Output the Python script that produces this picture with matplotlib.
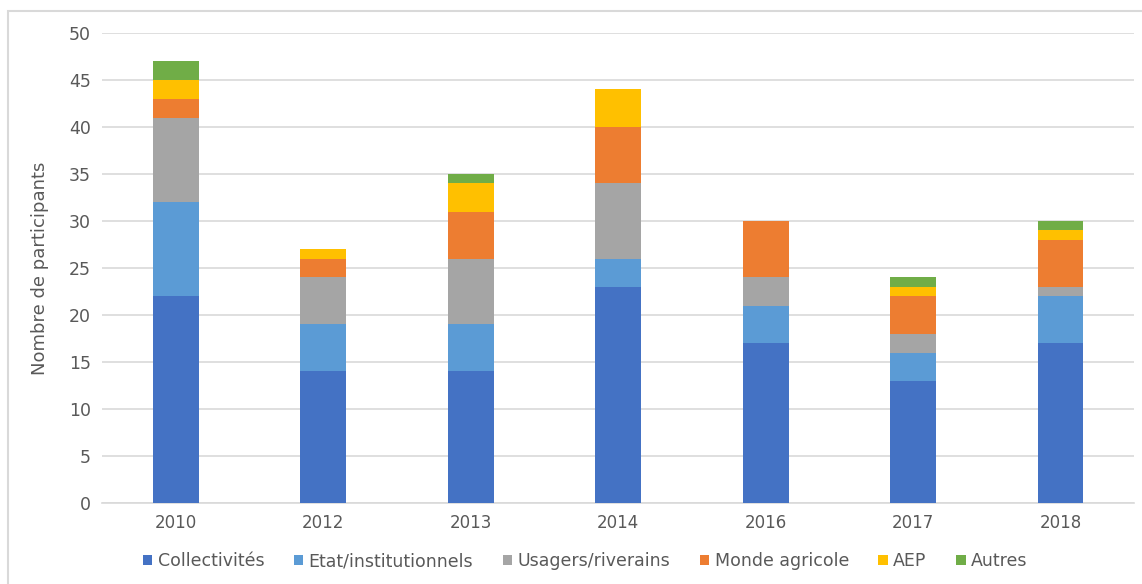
import numpy as np
import matplotlib.pyplot as plt
from matplotlib.patches import Rectangle

years = ['2010', '2012', '2013', '2014', '2016', '2017', '2018']
collectivites = [22, 14, 14, 23, 17, 13, 17]
etat = [10, 5, 5, 3, 4, 3, 5]
usagers = [9, 5, 7, 8, 3, 2, 1]
agricole = [2, 2, 5, 6, 6, 4, 5]
aep = [2, 1, 3, 4, 0, 1, 1]
autres = [2, 0, 1, 0, 0, 1, 1]

names = ['Collectivités', 'Etat/institutionnels', 'Usagers/riverains',
         'Monde agricole', 'AEP', 'Autres']
colors = ['#4472C4', '#5B9BD5', '#A5A5A5', '#ED7D31', '#FFC000', '#70AD47']
series = [collectivites, etat, usagers, agricole, aep, autres]

fig = plt.figure(figsize=(11.42, 5.84), dpi=100)
ax = fig.add_axes([0.0893, 0.1387, 0.904, 0.8048])

x = np.arange(len(years))
bottom = np.zeros(len(years))
for vals, name, c in zip(series, names, colors):
    ax.bar(x, vals, 0.31, bottom=bottom, color=c, label=name, zorder=3)
    bottom += np.array(vals)

ax.set_xlim(-0.5, 6.5)
ax.set_ylim(0, 50)
ax.set_yticks(range(0, 51, 5))
ax.yaxis.grid(True, color='#d9d9d9', lw=1.2, zorder=0)
for s in ['top', 'right', 'left']:
    ax.spines[s].set_visible(False)
ax.spines['bottom'].set_color('#d9d9d9')
ax.spines['bottom'].set_linewidth(1.2)
ax.tick_params(axis='both', length=0, colors='#595959')
ax.tick_params(axis='y', labelsize=12.5, pad=8)
ax.set_xticks(x)
ax.set_xticklabels(years, fontsize=12)
ax.tick_params(axis='x', pad=8)
ax.set_ylabel('Nombre de participants', fontsize=13, color='#595959', labelpad=14)

leg = ax.legend(loc='center', bbox_to_anchor=(0.468, -0.124), ncol=6,
                frameon=False, handlelength=0.55, handleheight=0.55,
                handletextpad=0.3, columnspacing=1.7,
                prop={'size': 12.5})
for t in leg.get_texts():
    t.set_color('#595959')

fig.patches.append(Rectangle((8 / 1142, -0.1), 1.2, 1.1 - 11 / 584, transform=fig.transFigure,
                             fill=False, edgecolor='#d9d9d9', lw=1.5))

fig.savefig('out.png', dpi=100)
